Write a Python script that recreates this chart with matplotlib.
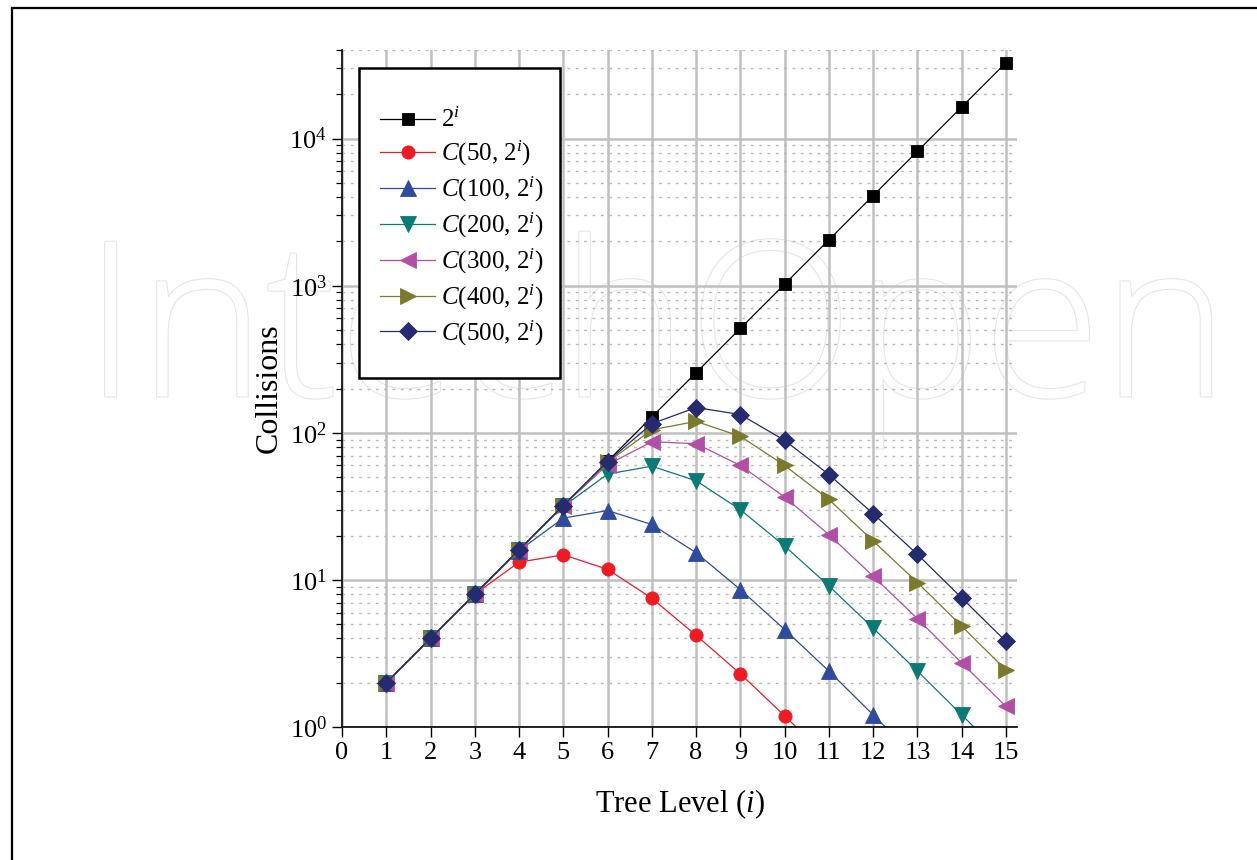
import matplotlib
matplotlib.use("Agg")
import matplotlib.pyplot as plt
import matplotlib.patheffects as pe
from matplotlib.patches import Rectangle
from matplotlib.ticker import LogLocator, NullFormatter, FixedLocator

# ---------------- data ----------------
levels = list(range(1, 16))
pow2 = [2, 4, 8, 16, 32, 64, 128, 256, 512, 1024, 2048, 4096, 8192, 16384, 32768]
c50 = [2, 4, 8, 13.2, 14.8, 11.8, 7.5, 4.2, 2.3, 1.19, 0.61, 0.31, 0.15, 0.076, 0.038]
c100 = [2, 4, 8, 15.8, 26.3, 29.6, 23.8, 15.3, 8.6, 4.6, 2.4, 1.21, 0.61, 0.30, 0.15]
c200 = [2, 4, 8, 16, 31.6, 52.4, 59.3, 47.2, 30.0, 17.0, 9.1, 4.7, 2.4, 1.21, 0.61]
c300 = [2, 4, 8, 16, 32, 60.7, 86.9, 84.3, 60.0, 36.6, 20.3, 10.6, 5.45, 2.73, 1.38]
c400 = [2, 4, 8, 16, 32, 63.1, 104.8, 119.5, 94.6, 60.0, 35.2, 18.4, 9.6, 4.85, 2.44]
c500 = [2, 4, 8, 16, 32, 63.7, 115.3, 148.5, 133.0, 88.8, 52.0, 28.2, 14.9, 7.55, 3.82]

labels = [r"$2^i$", r"$C$(50, 2$^i$)", r"$C$(100, 2$^i$)", r"$C$(200, 2$^i$)",
          r"$C$(300, 2$^i$)", r"$C$(400, 2$^i$)", r"$C$(500, 2$^i$)"]
series = [pow2, c50, c100, c200, c300, c400, c500]
colors = ["#000000", "#ed1c24", "#2e4b9e", "#0b7a74", "#b24ea5", "#7a7a2c", "#262a6e"]
markers = ["s", "o", "^", "v", "<", ">", "D"]
msizes = [8, 9.5, 11, 11, 11, 11, 9]

x_ticks = list(range(0, 16))

# ---------------- style ----------------
plt.rcParams["font.family"] = ["Liberation Serif", "DejaVu Serif"]
plt.rcParams["mathtext.fontset"] = "custom"
plt.rcParams["mathtext.rm"] = "Liberation Serif"
plt.rcParams["mathtext.it"] = "Liberation Serif:italic"
plt.rcParams["mathtext.bf"] = "Liberation Serif:bold"

W, H = 1257, 860
fig = plt.figure(figsize=(W / 100, H / 100), dpi=100)

# figure frame
fig.patches.append(Rectangle((12 / W, -0.05), 1.2, (H - 8) / H + 0.05,
                             transform=fig.transFigure, fill=False,
                             edgecolor="black", linewidth=1.6, zorder=-2))

# watermark (behind the plot)
fig.text(0.522, 0.605, "IntechOpen", ha="center", va="center", fontsize=156,
         family="Open Sans", fontweight="light", color="white", zorder=-1,
         path_effects=[pe.withStroke(linewidth=1.6, foreground="#e6e6e6")])

ax_l, ax_r = 342 / W, 1017 / W
ax_b, ax_t = 1 - 727 / H, 1 - 50 / H
ax = fig.add_axes([ax_l, ax_b, ax_r - ax_l, ax_t - ax_b])
ax.set_facecolor("none")
ax.set_zorder(1)

for vals, lab, col, mk, ms in zip(series, labels, colors, markers, msizes):
    ax.plot(levels, vals, color=col, marker=mk, markersize=ms, linewidth=0.9,
            markeredgewidth=0.6, markeredgecolor=col, label=lab, clip_on=True)

ax.set_yscale("log")
ax.set_xlim(0, 15.25)
ax.set_ylim(1, 4e4)

ax.xaxis.set_major_locator(FixedLocator(x_ticks))
ax.set_xticklabels([str(t) for t in x_ticks])
ax.yaxis.set_major_locator(LogLocator(base=10, numticks=10))
ax.yaxis.set_minor_locator(LogLocator(base=10, subs=range(2, 10), numticks=50))
ax.yaxis.set_minor_formatter(NullFormatter())

ax.grid(True, which="major", color="#c0c0c0", linewidth=1.8, zorder=0)
ax.grid(True, which="minor", axis="y", color="#b8b8b8", linewidth=1.0,
        linestyle=(0, (2, 4)))
ax.set_axisbelow(True)

for s in ["top", "right"]:
    ax.spines[s].set_visible(False)
for s in ["left", "bottom"]:
    ax.spines[s].set_linewidth(1.2)

ax.tick_params(axis="both", which="major", direction="out", length=7, width=1.0,
               labelsize=19, pad=4)
ax.tick_params(axis="y", which="minor", direction="out", length=4, width=0.9)

ax.set_xlabel(r"Tree Level ($i$)", fontsize=22, labelpad=17)
ax.set_ylabel("Collisions", fontsize=23, labelpad=4)

# legend box
axw = (1017 - 342)
axh = (727 - 50)
ax.add_patch(Rectangle(((359 - 342) / axw, (727 - 378) / axh), 201 / axw, 310 / axh,
                       transform=ax.transAxes, fill=True, facecolor="white",
                       edgecolor="black", linewidth=1.8, zorder=5))
leg = ax.legend(loc="upper left", bbox_to_anchor=((380 - 342) / axw, (727 - 108) / axh),
                frameon=False, fontsize=18, handlelength=2.2, handletextpad=0.25,
                labelspacing=0.27, borderpad=0, borderaxespad=0)
leg.set_zorder(6)

fig.savefig("out.png", dpi=100)
